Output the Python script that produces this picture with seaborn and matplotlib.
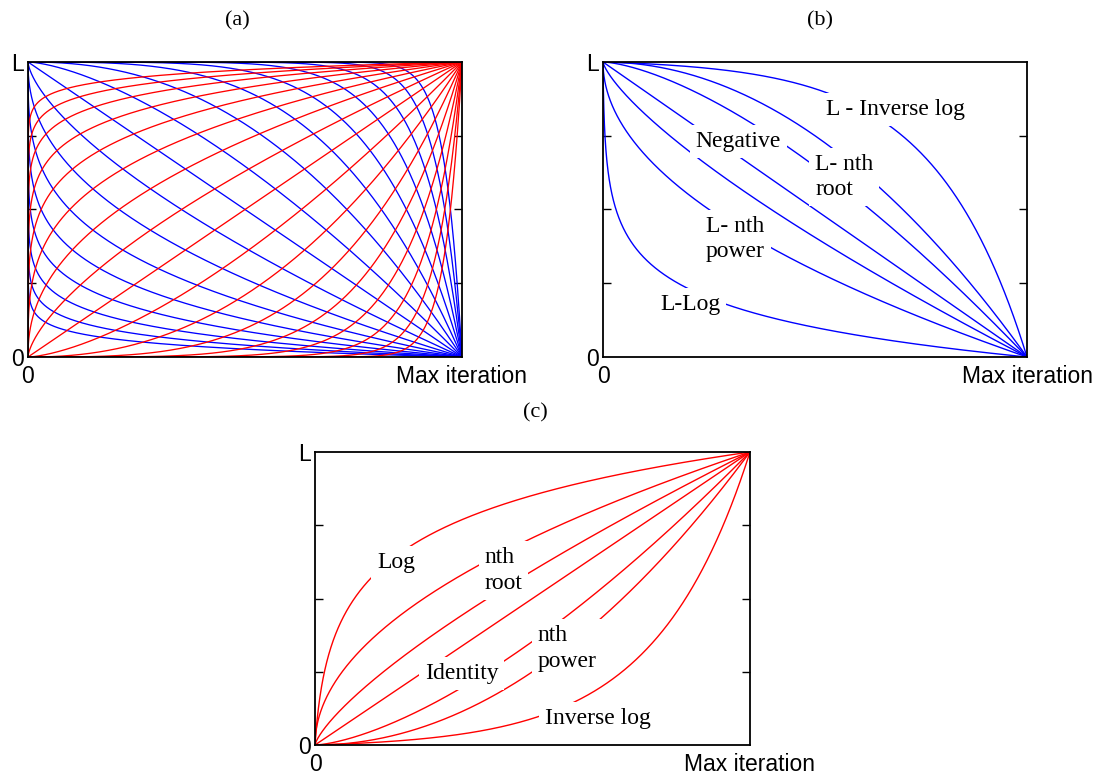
import numpy as np
import pandas as pd
import matplotlib
matplotlib.use("Agg")
import matplotlib.pyplot as plt
import seaborn as sns

sns.set_style("white")
plt.rcParams["font.family"] = ["Liberation Sans", "DejaVu Sans"]
plt.rcParams["text.color"] = "black"
plt.rcParams["xtick.color"] = "black"
plt.rcParams["ytick.color"] = "black"

# ---------------- data ----------------
# (a) family of power-curve exponents (red: x^p, blue: L - x^p)
exponents_a = [0.039, 0.059, 0.088, 0.132, 0.198, 0.296, 0.444, 0.667, 1.0,
               1.5, 2.25, 3.375, 5.06, 7.59, 11.39, 17.09, 25.63]

# (b) decreasing schemes: L - f(t)
b_kinds = ["invlog", "power", "power", "power", "power", "power", "log"]
b_params = [100, 2.0, 1.5, 1.0, 0.75, 0.5, 1000]

# (c) increasing schemes: f(t)
c_kinds = ["log", "power", "power", "power", "power", "power", "invlog"]
c_params = [100, 0.5, 0.75, 1.0, 1.5, 2.0, 100]

b_texts = ["L - Inverse log", "Negative", "L- nth\nroot", "L- nth\npower", "L-Log"]
c_texts = ["Log", "nth\nroot", "Identity", "nth\npower", "Inverse log"]

panel_titles = ["(a)", "(b)", "(c)"]
y_tick_labels = ["0", "L"]
x_tick_labels = ["0", "Max iteration"]

# ---------------- helpers ----------------
small = np.geomspace(1e-10, 1e-3, 300)
t = np.unique(np.concatenate([np.linspace(0, 1, 3001), small, 1 - small, [0.0, 1.0]]))


def scheme(kind, p):
    if kind == "power":
        return t ** p
    if kind == "log":
        return np.log1p(p * t) / np.log1p(p)
    return ((1 + p) ** t - 1) / p


def frame(ax):
    ax.set_xlim(0, 1)
    ax.set_ylim(0, 1)
    ax.set_xticks([0, 1])
    ax.set_xticklabels(x_tick_labels)
    ax.set_yticks([0, 1])
    ax.set_yticklabels(y_tick_labels)
    ax.set_yticks([0.25, 0.5, 0.75], minor=True)
    ax.tick_params(which="major", length=0, labelsize=16.5, pad=3, labelcolor="black")
    ax.tick_params(axis="x", which="major", pad=6)
    ax.tick_params(which="minor", axis="y", direction="in", left=True, right=True,
                   length=6, width=1.0, color="black")
    ax.set_xlabel("")
    ax.set_ylabel("")
    for s in ax.spines.values():
        s.set_visible(True)
        s.set_color("black")
        s.set_linewidth(1.3)
        s.set_zorder(5)
    if ax.get_legend() is not None:
        ax.get_legend().remove()


def draw(ax, frames, color, lw=1.0):
    df = pd.concat(frames, ignore_index=True)
    sns.lineplot(data=df, x="x", y="y", units="curve", estimator=None,
                 color=color, lw=lw, ax=ax, sort=False)


fig = plt.figure(figsize=(11.07, 7.77), dpi=100)
ax_a = fig.add_axes([28 / 1107, 1 - 357 / 777, 434 / 1107, 295 / 777])
ax_b = fig.add_axes([603 / 1107, 1 - 357 / 777, 424 / 1107, 295 / 777])
ax_c = fig.add_axes([315 / 1107, 1 - 745 / 777, 435 / 1107, 293 / 777])

# ---- (a)
blue_a = [pd.DataFrame({"x": t, "y": 1 - t ** p, "curve": i}) for i, p in enumerate(exponents_a)]
red_a = [pd.DataFrame({"x": t, "y": t ** p, "curve": i}) for i, p in enumerate(exponents_a)]
draw(ax_a, blue_a, "#0000FF", 0.95)
draw(ax_a, red_a, "#FF0000", 0.95)
frame(ax_a)

# ---- (b)
blue_b = [pd.DataFrame({"x": t, "y": 1 - scheme(k, p), "curve": i})
          for i, (k, p) in enumerate(zip(b_kinds, b_params))]
draw(ax_b, blue_b, "#0000FF", 1.0)
frame(ax_b)

# ---- (c)
red_c = [pd.DataFrame({"x": t, "y": scheme(k, p), "curve": i})
         for i, (k, p) in enumerate(zip(c_kinds, c_params))]
draw(ax_c, red_c, "#FF0000", 1.0)
frame(ax_c)

# ---- annotations
serif = dict(family=["Liberation Serif", "DejaVu Serif"], fontsize=17, zorder=6,
             color="black", ha="left", va="center", linespacing=1.3,
             bbox=dict(facecolor="white", edgecolor="none", boxstyle="square,pad=0.25"))
b_pos = [(0.525, 0.84), (0.218, 0.73), (0.50, 0.61), (0.243, 0.40), (0.135, 0.177)]
for s, (px, py) in zip(b_texts, b_pos):
    ax_b.text(px, py, s, transform=ax_b.transAxes, **serif)
c_pos = [(0.143, 0.622), (0.39, 0.595), (0.252, 0.245), (0.512, 0.33), (0.529, 0.092)]
for s, (px, py) in zip(c_texts, c_pos):
    ax_c.text(px, py, s, transform=ax_c.transAxes, **serif)

title_kw = dict(family=["Liberation Serif", "DejaVu Serif"], fontsize=16, color="black",
                ha="center", va="center")
fig.text(237 / 1107, 1 - 21 / 777, panel_titles[0], **title_kw)
fig.text(820 / 1107, 1 - 21 / 777, panel_titles[1], **title_kw)
fig.text(535 / 1107, 1 - 413 / 777, panel_titles[2], **title_kw)

fig.savefig("out.png", dpi=100, facecolor="white")
